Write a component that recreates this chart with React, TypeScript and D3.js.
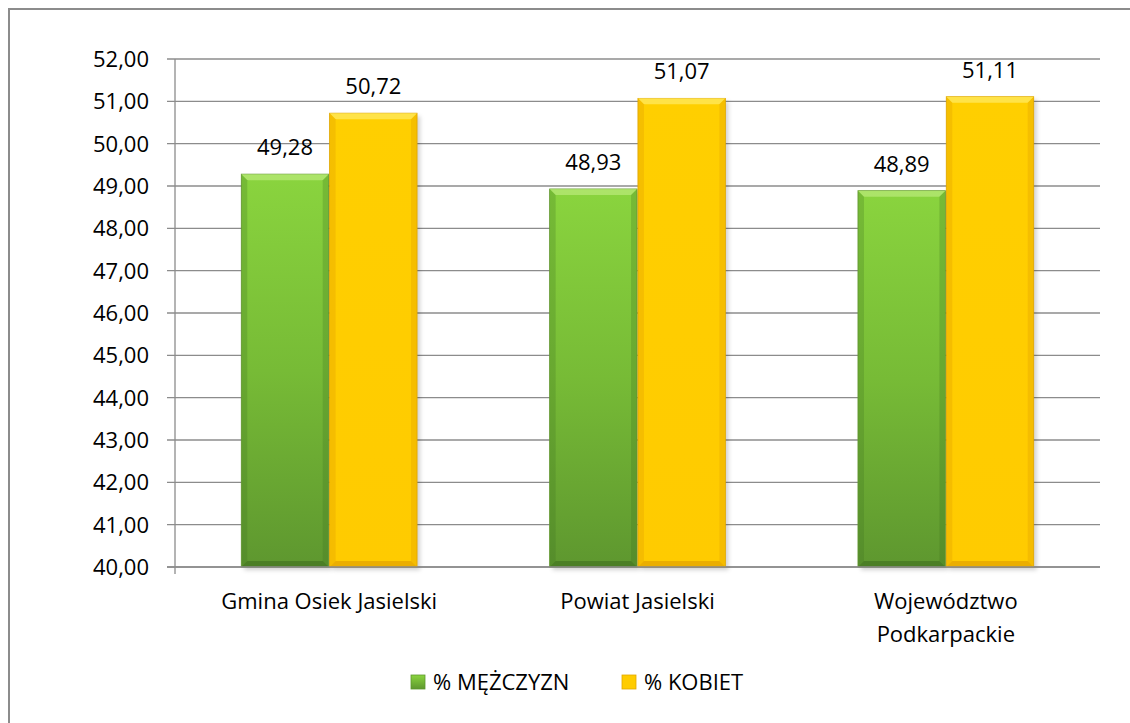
import React from "react";
import * as d3 from "d3";

const categories = ["Gmina Osiek Jasielski", "Powiat Jasielski", "Województwo Podkarpackie"];
const categoryLines = [["Gmina Osiek Jasielski"], ["Powiat Jasielski"], ["Województwo", "Podkarpackie"]];
const seriesNames = ["% MĘŻCZYZN", "% KOBIET"];
const menValues = [49.28, 48.93, 48.89];
const womenValues = [50.72, 51.07, 51.11];
const yTicks = [40, 41, 42, 43, 44, 45, 46, 47, 48, 49, 50, 51, 52];

const W = 1130, H = 723;
const left = 175, right = 1100, top = 59, bottom = 567;
const FONT = "'Open Sans', sans-serif";
const FS = 22;

const fmt = (v: number) => v.toFixed(2).replace(".", ",");

export default function App() {
  const x = d3.scaleBand<string>().domain(categories).range([left, right]).paddingInner(0.43).paddingOuter(0.215);
  const y = d3.scaleLinear().domain([40, 52]).range([bottom, top]);
  const sub = d3.scaleBand<number>().domain([0, 1]).range([0, x.bandwidth()]).paddingInner(0.01);
  const series = [menValues, womenValues];
  const bw = sub.bandwidth();
  const bev = 6;

  const bar = (si: number, ci: number) => {
    const v = series[si][ci];
    const bx = (x(categories[ci]) as number) + (sub(si) as number);
    const by = y(v);
    const bh = bottom - by;
    const isG = si === 0;
    const fill = isG ? "url(#gGreen)" : "url(#gYellow)";
    const light = isG ? "rgba(200,240,140,0.55)" : "rgba(255,240,120,0.6)";
    const dark = isG ? "rgba(40,80,20,0.35)" : "rgba(210,140,0,0.45)";
    const side = isG ? "rgba(60,110,30,0.25)" : "rgba(225,160,0,0.35)";
    return (
      <g key={`${si}-${ci}`}>
        <rect x={bx + 3} y={by + 3} width={bw} height={bh} fill="rgba(0,0,0,0.18)" filter="url(#blur)" />
        <rect x={bx} y={by} width={bw} height={bh} fill={fill} stroke={isG ? "#6a9e35" : "#e0a800"} strokeWidth={0.8} />
        <polygon points={`${bx},${by} ${bx + bw},${by} ${bx + bw - bev},${by + bev} ${bx + bev},${by + bev}`} fill={light} />
        <polygon points={`${bx},${by} ${bx + bev},${by + bev} ${bx + bev},${bottom - bev} ${bx},${bottom}`} fill={side} />
        <polygon points={`${bx + bw},${by} ${bx + bw - bev},${by + bev} ${bx + bw - bev},${bottom - bev} ${bx + bw},${bottom}`} fill={side} />
        <polygon points={`${bx},${bottom} ${bx + bev},${bottom - bev} ${bx + bw - bev},${bottom - bev} ${bx + bw},${bottom}`} fill={dark} />
        <text x={bx + bw / 2} y={by - 19} textAnchor="middle" fontSize={FS} fill="#000" fontFamily={FONT}>{fmt(v)}</text>
      </g>
    );
  };

  return (
    <svg width={W} height={H} style={{ position: "absolute", left: 0, top: 0 }} fontFamily={FONT}>
      <defs>
        <linearGradient id="gGreen" x1="0" y1="0" x2="0" y2="1">
          <stop offset="0" stopColor="#8ad43e" />
          <stop offset="0.5" stopColor="#77bb36" />
          <stop offset="1" stopColor="#5e972f" />
        </linearGradient>
        <linearGradient id="gYellow" x1="0" y1="0" x2="0" y2="1">
          <stop offset="0" stopColor="#ffcf00" />
          <stop offset="1" stopColor="#ffcb00" />
        </linearGradient>
        <linearGradient id="lgGreen" x1="0" y1="0" x2="0" y2="1">
          <stop offset="0" stopColor="#8ad43e" />
          <stop offset="1" stopColor="#5e972f" />
        </linearGradient>
        <filter id="blur" x="-10%" y="-10%" width="130%" height="130%">
          <feGaussianBlur stdDeviation="2" />
        </filter>
      </defs>
      <rect x={0} y={0} width={W} height={H} fill="#fff" />
      <rect x={9} y={9} width={W + 10} height={H + 10} fill="none" stroke="#8c8c8c" strokeWidth={2} />
      {yTicks.map((t) => (
        <g key={t}>
          <line x1={167} x2={right} y1={y(t)} y2={y(t)} stroke="#8c8c8c" strokeWidth={1.3} />
          <text x={149} y={y(t) + 8} textAnchor="end" fontSize={FS} fill="#000">{fmt(t)}</text>
        </g>
      ))}
      <line x1={left} x2={left} y1={top} y2={bottom + 7} stroke="#8c8c8c" strokeWidth={1.3} />
      {categories.map((c, ci) => (
        <g key={c}>
          {[0, 1].map((si) => bar(si, ci))}
        </g>
      ))}
      <line x1={167} x2={right} y1={bottom} y2={bottom} stroke="#8c8c8c" strokeWidth={1.3} />
      {categories.map((c, ci) => {
        const cx = (x(c) as number) + x.bandwidth() / 2;
        return (
          <text key={c} textAnchor="middle" fontSize={FS} fill="#000">
            {categoryLines[ci].map((ln, li) => (
              <tspan key={li} x={cx} y={609 + li * 33}>{ln}</tspan>
            ))}
          </text>
        );
      })}
      {seriesNames.map((s, si) => {
        const lx = si === 0 ? 411 : 622;
        return (
          <g key={s}>
            <rect x={lx} y={675} width={14} height={14} fill={si === 0 ? "url(#lgGreen)" : "#ffcc00"} stroke={si === 0 ? "#5e972f" : "#e0a800"} strokeWidth={0.8} />
            <text x={lx + 22} y={690} fontSize={FS} fill="#000">{s}</text>
          </g>
        );
      })}
    </svg>
  );
}
